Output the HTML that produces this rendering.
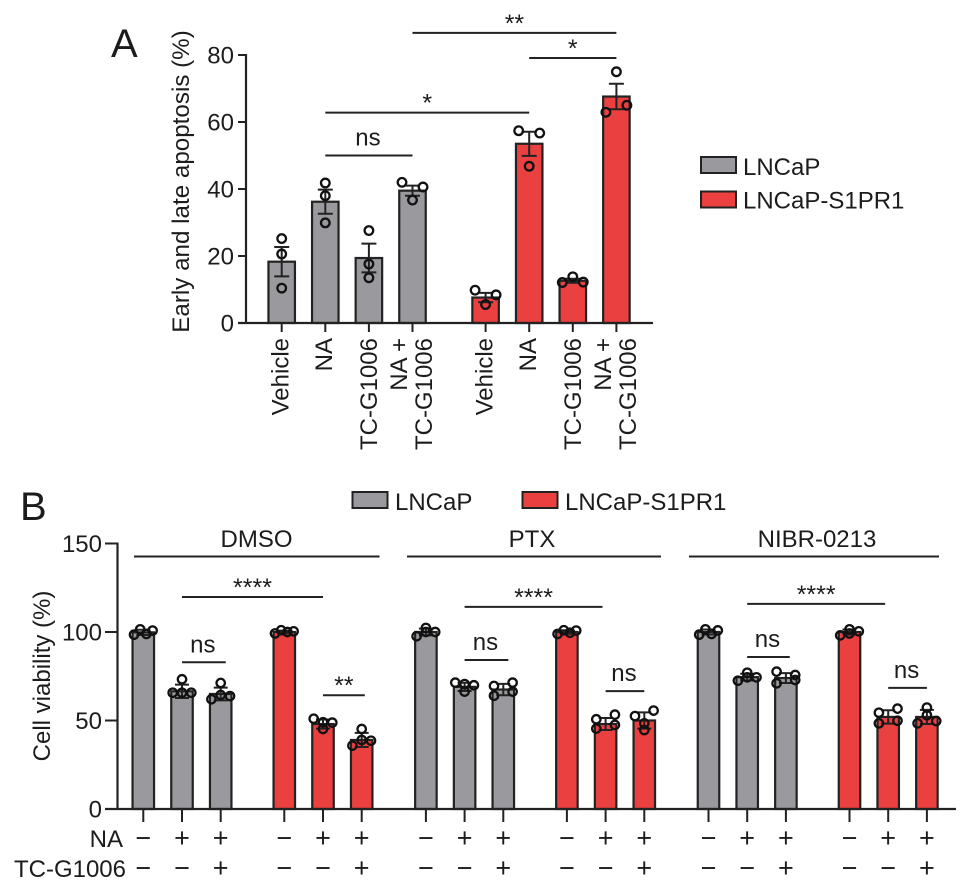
<!DOCTYPE html>
<html lang="en">
<head>
<meta charset="utf-8">
<title>Apoptosis and cell viability bar charts</title>
<style>
html,body{margin:0;padding:0;background:#fff;}
svg{display:block;font-family:"Liberation Sans",Arial,sans-serif;fill:#1c1c1c;}
text{font-size:24px;}
</style>
</head>
<body>
<svg id="chart" xmlns="http://www.w3.org/2000/svg" width="969" height="890" viewBox="0 0 969 890">
  <text x="111" y="57" style="font-size:40px">A</text>
  <text x="20" y="520" style="font-size:40px">B</text>

  <text transform="translate(189,181.5) rotate(-90)" text-anchor="middle" style="font-size:24.2px">Early and late apoptosis (%)</text>
  <text transform="translate(50,676) rotate(-90)" text-anchor="middle">Cell viability (%)</text>

  <g>
    <rect x="701" y="157" width="35" height="16" fill="#9a9a9e" stroke="#222" stroke-width="2"/>
    <text x="743" y="175">LNCaP</text>
    <rect x="701" y="191.500" width="35" height="16" fill="#ea4040" stroke="#222" stroke-width="2"/>
    <text x="743" y="208.500">LNCaP-S1PR1</text>
  </g>
  <g>
    <rect x="352.500" y="492" width="35" height="16" fill="#9a9a9e" stroke="#222" stroke-width="2"/>
    <text x="395" y="510">LNCaP</text>
    <rect x="522.500" y="492" width="35" height="16" fill="#ea4040" stroke="#222" stroke-width="2"/>
    <text x="565" y="510">LNCaP-S1PR1</text>
  </g>

  <g>
    <text x="256.500" y="547" text-anchor="middle">DMSO</text>
    <line x1="134" x2="379.500" y1="556.500" y2="556.500" stroke="#222" stroke-width="2"/>
    <text x="532" y="547" text-anchor="middle">PTX</text>
    <line x1="407" x2="661" y1="556.500" y2="556.500" stroke="#222" stroke-width="2"/>
    <text x="817" y="547" text-anchor="middle">NIBR-0213</text>
    <line x1="689" x2="939" y1="556.500" y2="556.500" stroke="#222" stroke-width="2"/>
  </g>

  <text x="123" y="847" text-anchor="end">NA</text>
  <text x="126" y="877" text-anchor="end">TC-G1006</text>

  <g id="panelA"></g>
  <g id="panelB"></g>
</svg>

<script>
// ---------- Panel A data ----------
const aTickValues = [0, 20, 40, 60, 80];
const aCategories = [["Vehicle"], ["NA"], ["TC-G1006"], ["NA +", "TC-G1006"], ["Vehicle"], ["NA"], ["TC-G1006"], ["NA +", "TC-G1006"]];
const aCellLines = ["gray", "gray", "gray", "gray", "red", "red", "red", "red"];
const aMeans = [18.3, 36.2, 19.4, 39.5, 7.6, 53.5, 12.6, 67.6];
const aErrors = [4.4, 3.6, 4.3, 1.5, 1.4, 3.6, 0.6, 3.8];
const aPoints = [
  [25.2, 20.6, 10.4],
  [41.8, 38.0, 29.9],
  [27.6, 17.6, 13.5],
  [42.0, 40.6, 36.7],
  [9.8, 8.4, 5.5],
  [57.4, 56.7, 46.8],
  [12.1, 13.8, 12.2],
  [62.9, 65.0, 75.0]
];
const aSigLabels = ["ns", "*", "**", "*"];
const aSigFrom = [1, 1, 3, 5];
const aSigTo = [3, 5, 7, 7];
const aSigLevels = [50, 62.8, 86.6, 79.1];

// ---------- Panel B data ----------
const bTickValues = [0, 50, 100, 150];
const bNaSigns = ["−", "+", "+", "−", "+", "+"];
const bTcSigns = ["−", "−", "+", "−", "−", "+"];
const bMeans = [
  [99.8, 66.5, 65.0, 100.0, 48.0, 39.0],
  [100.0, 69.0, 67.5, 100.0, 48.0, 50.0],
  [100.0, 74.5, 74.0, 100.0, 52.0, 52.0]
];
const bErrors = [
  [1.5, 3.8, 3.6, 0.8, 2.6, 4.0],
  [1.9, 2.3, 3.2, 1.0, 3.4, 4.6],
  [1.4, 1.9, 2.8, 1.4, 3.8, 4.0]
];
const bPoints = [
  [[98.5, 101.5, 98.9, 100.8], [65.7, 73.3, 65.7, 65.7], [62.0, 71.2, 64.4, 63.8], [99.2, 101.0, 100.0, 100.4], [45.2, 51.0, 49.0, 48.8], [35.8, 45.2, 39.0, 38.6]],
  [[102.3, 97.6, 100.0, 100.0], [71.4, 66.3, 70.6, 69.9], [64.0, 69.5, 71.4, 66.3], [98.9, 101.0, 99.6, 100.8], [50.7, 45.4, 53.3, 47.5], [52.5, 44.6, 55.6, 48.4]],
  [[98.5, 101.5, 98.9, 100.9], [72.5, 77.0, 74.4, 74.4], [77.6, 71.0, 75.7, 72.9], [98.1, 101.5, 99.2, 100.4], [54.4, 48.4, 56.7, 49.9], [53.0, 48.4, 57.3, 49.7]]
];
const bSigLabels = ["****", "ns", "**", "****", "ns", "ns", "****", "ns", "ns"];
const bSigPanels = [0, 0, 0, 1, 1, 1, 2, 2, 2];
const bSigFrom = [1, 1, 4, 1, 1, 4, 1, 1, 4];
const bSigTo = [4, 2.13, 5.08, 3.92, 2.13, 5, 3.92, 2.1, 5];
const bSigLevels = [119.8, 82.9, 64.3, 114.2, 84.2, 66.6, 115.9, 85.9, 68.4];

// ---------- Scales ----------
const COLORS = { gray: "#9a9a9e", red: "#ea4040" };
const INK = "#222";
const SVGNS = "http://www.w3.org/2000/svg";
const yA = v => 323 - v * 3.35;
const yB = v => 809 - v * 1.77;
const xA = i => 281.7 + i * 43.6 + (i >= 3.5 ? 29.5 : 0);
const xB = (p, i) => 143.3 + p * 282.6 + i * 38.7 + (i >= 2.5 ? 24.9 : 0);

function make(tag, parent, attrs, text) {
  const el = document.createElementNS(SVGNS, tag);
  for (const k in attrs) el.setAttribute(k, attrs[k]);
  if (text !== undefined) el.textContent = text;
  parent.appendChild(el);
  return el;
}

// Spreads values sitting at a similar height sideways, as a swarm plot does.
function swarmOffsets(vals, scale, threshold, halfWidth) {
  const order = vals.map((v, i) => i).sort((a, b) => vals[a] - vals[b]);
  const out = new Array(vals.length).fill(0);
  let k = 0;
  while (k < order.length) {
    const bin = [order[k]];
    let j = k + 1;
    while (j < order.length && (vals[order[j]] - vals[order[k]]) * scale <= threshold) {
      bin.push(order[j]);
      j++;
    }
    bin.sort((a, b) => a - b);
    if (bin.length > 1) {
      bin.forEach((idx, n) => { out[idx] = -halfWidth + 2 * halfWidth * n / (bin.length - 1); });
    }
    k = j;
  }
  return out;
}

function drawBar(g, cx, bw, y0, yTop, yHi, yLo, capW, color, vals, scale, thr, hw, yFn, r, sw) {
  const bar = make("rect", g, { x: cx - bw / 2, y: yTop, width: bw, height: y0 - yTop, fill: color, stroke: INK, "stroke-width": sw });
  
  
  const whisker = make("path", g, { d: `M${cx} ${yHi}V${yLo}M${cx - capW} ${yHi}H${cx + capW}M${cx - capW} ${yLo}H${cx + capW}`, fill: "none", stroke: INK, "stroke-width": 2 });
  
  
  const dx = swarmOffsets(vals, scale, thr, hw);
  vals.forEach((v, i) => {
    const pt = make("circle", g, { cx: cx + dx[i], cy: yFn(v), r: r, fill: "none", stroke: "#111", "stroke-width": 2.3 });
    
    
  });
}

function sigMark(g, label, x1, x2, y) {
  const line = make("line", g, { x1: x1, x2: x2, y1: y, y2: y, stroke: INK, "stroke-width": 2 });
  
  
  const isNs = label === "ns";
  const t = make("text", g, { x: (x1 + x2) / 2 + (isNs ? -1 : 0), y: isNs ? y - 10 : y - 1, "text-anchor": "middle", style: "font-size:" + (isNs ? 24 : 25) + "px" }, label);
  
  
}

// ---------- Panel A ----------
const gA = document.getElementById("panelA");
aMeans.forEach((m, i) => {
  const cx = xA(i);
  drawBar(gA, cx, 26.5, yA(0), yA(m), yA(m + aErrors[i]), yA(m - aErrors[i]), 7.5, COLORS[aCellLines[i]], aPoints[i], 3.35, 7.5, 10.5, yA, 4.3, 2.2);
  const tick = make("line", gA, { x1: cx, x2: cx, y1: yA(0), y2: yA(0) + 9, stroke: INK, "stroke-width": 2 });
  
  
  const lines = aCategories[i];
  lines.forEach((label, n) => {
    const off = lines.length === 2 ? (n === 0 ? -5.5 : 19.5) : (label === "TC-G1006" ? 8 : 6.7);
    const t = make("text", gA, { transform: `translate(${cx + off},338) rotate(-90)`, "text-anchor": "end" }, label);
    
    
  });
});
const axisAY = make("line", gA, { x1: 246, x2: 246, y1: yA(80) - 1, y2: yA(0) + 1, stroke: INK, "stroke-width": 2.2 });


const axisAX = make("line", gA, { x1: 238, x2: 653, y1: yA(0), y2: yA(0), stroke: INK, "stroke-width": 2.2 });


aTickValues.forEach(v => {
  const tick = make("line", gA, { x1: 238, x2: 246, y1: yA(v), y2: yA(v), stroke: INK, "stroke-width": 2 });
  
  
  const t = make("text", gA, { x: 234, y: yA(v) + 8.5, "text-anchor": "end" }, v);
  
  
});
aSigLabels.forEach((label, i) => sigMark(gA, label, xA(aSigFrom[i]), xA(aSigTo[i]), yA(aSigLevels[i])));

// ---------- Panel B ----------
const gB = document.getElementById("panelB");
bMeans.forEach((row, p) => {
  row.forEach((m, i) => {
    const cx = xB(p, i);
    drawBar(gB, cx, 21.5, yB(0), yB(m), yB(m + bErrors[p][i]), yB(m - bErrors[p][i]), 7, COLORS[i < 3 ? "gray" : "red"], bPoints[p][i], 1.77, 6, 9.3, yB, 4.2, 2.2);
    const tick = make("line", gB, { x1: cx, x2: cx, y1: yB(0), y2: yB(0) + 13, stroke: INK, "stroke-width": 2 });
    
    
    const na = make("text", gB, { x: cx, y: 847, "text-anchor": "middle", style: "font-size:27px" }, bNaSigns[i]);
    
    
    const tc = make("text", gB, { x: cx, y: 877, "text-anchor": "middle", style: "font-size:27px" }, bTcSigns[i]);
    
    
  });
});
const axisBY = make("line", gB, { x1: 117.500, x2: 117.500, y1: yB(150) - 1, y2: yB(0) + 1, stroke: INK, "stroke-width": 2.2 });


const axisBX = make("line", gB, { x1: 105, x2: 956, y1: yB(0), y2: yB(0), stroke: INK, "stroke-width": 2.2 });


bTickValues.forEach(v => {
  const tick = make("line", gB, { x1: 105, x2: 117.500, y1: yB(v), y2: yB(v), stroke: INK, "stroke-width": 2 });
  
  
  const t = make("text", gB, { x: 102, y: yB(v) + 8.5, "text-anchor": "end" }, v);
  
  
});
bSigLabels.forEach((label, i) => {
  const p = bSigPanels[i];
  sigMark(gB, label, xB(p, bSigFrom[i]), xB(p, bSigTo[i]), yB(bSigLevels[i]));
});
</script>
</body>
</html>
